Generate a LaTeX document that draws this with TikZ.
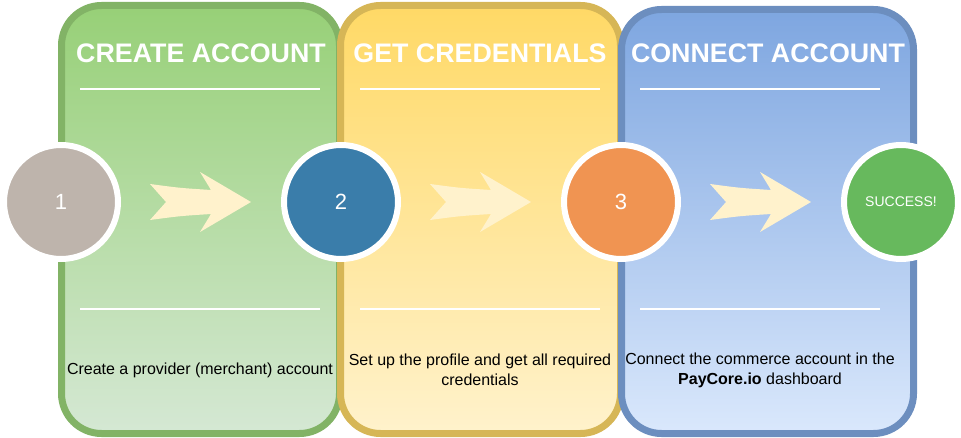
\documentclass[tikz,border=0pt]{standalone}
\usepackage{fontspec}
\setmainfont{Liberation Sans}
\definecolor{arrowfill}{HTML}{FFF2CC}
\definecolor{gstroke}{HTML}{82B366}
\definecolor{gtop}{HTML}{97D077}
\definecolor{gbot}{HTML}{D5E8D4}
\definecolor{ystroke}{HTML}{D6B656}
\definecolor{ytop}{HTML}{FFD966}
\definecolor{ybot}{HTML}{FFF2CC}
\definecolor{bstroke}{HTML}{6C8EBF}
\definecolor{btop}{HTML}{7EA6E0}
\definecolor{bbot}{HTML}{DAE8FC}
\definecolor{c1}{HTML}{BEB4AC}
\definecolor{c2}{HTML}{3A7DAA}
\definecolor{c3}{HTML}{F09452}
\definecolor{c4}{HTML}{67B95D}
\begin{document}
\begin{tikzpicture}[x=1pt,y=-1pt,
  panel/.style={line width=7pt, rounded corners=40pt},
  sep/.style={draw=white, line width=1.6pt},
  title/.style={text=white, font=\bfseries\fontsize{26.8}{30}\selectfont, anchor=center},
  stepcircle/.style={circle, draw=white, line width=6pt, minimum size=114pt, inner sep=0pt, text=white, font=\fontsize{22}{26}\selectfont},
  desc/.style={font=\fontsize{16}{20}\selectfont, align=center, text=black},
  flow/.style={fill=arrowfill, draw=none}
]
\useasboundingbox (0,0) rectangle (961,438);
% panels
\path[panel, draw=gstroke, top color=gtop, bottom color=gbot]
  (61.5,5.5) rectangle (339.5,433.5);
\path[panel, draw=ystroke, top color=ytop, bottom color=ybot]
  (340.5,5.5) rectangle (620.5,433.5);
\path[panel, draw=bstroke, top color=btop, bottom color=bbot]
  (621.5,9.5) rectangle (913.5,433.5);
% titles
\node[title] (t1) at (201,53) {CREATE ACCOUNT};
\node[title] (t2) at (480,53) {GET CREDENTIALS};
\node[title] (t3) at (768,53) {CONNECT ACCOUNT};
% separators
\foreach \i/\x in {1/80,2/360,3/640}{
  \coordinate (a\i) at (\x,89);
  \coordinate (b\i) at (\x+240,89);
  \draw[sep] (a\i) -- (b\i);
  \coordinate (c\i) at (\x,309);
  \coordinate (d\i) at (\x+240,309);
  \draw[sep] (c\i) -- (d\i);
}
% arrows
\foreach \dx in {0,280,560}{
  \path[flow] (150+\dx,184) .. controls (180+\dx,188) .. (211+\dx,190) -- (200+\dx,172) -- (251+\dx,202)
    -- (200+\dx,232) -- (211+\dx,214) .. controls (180+\dx,216) .. (150+\dx,220) -- (166+\dx,202) -- cycle;
}
% circles
\node[stepcircle, fill=c1] (s1) at (61,202) {1};
\node[stepcircle, fill=c2] (s2) at (341,202) {2};
\node[stepcircle, fill=c3] (s3) at (621,202) {3};
\node[stepcircle, fill=c4, font=\fontsize{14}{16}\selectfont] (s4) at (901,202) {SUCCESS!};
% descriptions
\node[desc] (d1) at (200,370) {Create a provider (merchant) account};
\node[desc] (dd2) at (480,370) {Set up the profile and get all required\\credentials};
\node[desc] (dd3) at (760,370) {Connect the commerce account in the\\\textbf{PayCore.io} dashboard};
\end{tikzpicture}
\end{document}
